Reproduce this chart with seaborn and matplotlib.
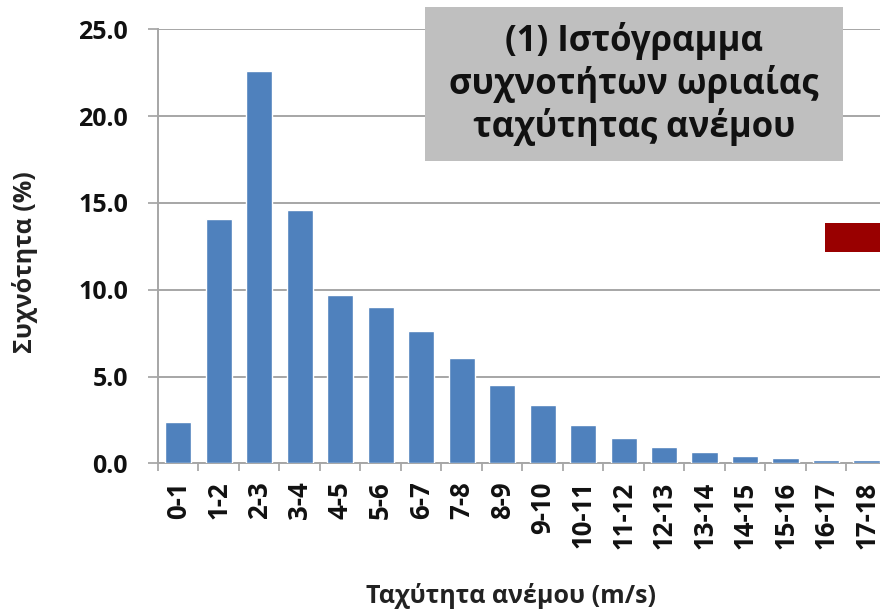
import matplotlib
matplotlib.use("Agg")
import matplotlib.pyplot as plt
import seaborn as sns
import pandas as pd
from matplotlib.patches import Rectangle
from matplotlib.ticker import FixedLocator

categories = ["0-1", "1-2", "2-3", "3-4", "4-5", "5-6", "6-7", "7-8", "8-9",
              "9-10", "10-11", "11-12", "12-13", "13-14", "14-15", "15-16",
              "16-17", "17-18"]
frequency = [2.4, 14.1, 22.6, 14.6, 9.7, 9.0, 7.65, 6.05, 4.5,
             3.35, 2.2, 1.48, 0.96, 0.65, 0.44, 0.3, 0.19, 0.18]
yticks = [0.0, 5.0, 10.0, 15.0, 20.0, 25.0]
title_text = "(1) Ιστόγραμμα\nσυχνοτήτων ωριαίας\nταχύτητας ανέμου"
xlabel = "Ταχύτητα ανέμου (m/s)"
ylabel = "Συχνότητα (%)"

sns.set_theme(style="white")
plt.rcParams['font.family'] = ['Open Sans', 'DejaVu Sans']
plt.rcParams['font.weight'] = 'bold'

df = pd.DataFrame({"cat": categories, "freq": frequency})

fig = plt.figure(figsize=(8.8, 6.13), dpi=100)
ax = fig.add_axes([0.1795, 0.2442, 0.8205, 0.708])

sns.barplot(data=df, x="cat", y="freq", color="#4f81bd", saturation=1,
            width=0.65, ax=ax, zorder=3)

ax.set_ylim(0, 25)
ax.set_xlim(-0.5, 17.33)
ax.set_yticks(yticks)
ax.set_yticklabels([f"{v:.1f}" for v in yticks], fontsize=18, fontweight='bold', color='#111111')
ax.set_xticks(range(len(categories)))
ax.set_xticklabels(categories, rotation=90, fontsize=18.5, fontweight='bold', color='#111111')
ax.xaxis.set_minor_locator(FixedLocator([i - 0.5 for i in range(len(categories) + 1)]))
ax.tick_params(axis='x', which='major', length=0, pad=13)
ax.tick_params(axis='x', which='minor', length=6, width=1.1, color='#999999', bottom=True)
ax.tick_params(axis='y', length=7.5, width=1.1, color='#999999', pad=14, left=True)

ax.grid(axis='y', color='#a6a6a6', linewidth=1.4, zorder=0)
ax.grid(axis='x', visible=False)
for s in ['top', 'right']:
    ax.spines[s].set_visible(False)
for s in ['left', 'bottom']:
    ax.spines[s].set_color('#a6a6a6')
    ax.spines[s].set_linewidth(1.4)

ax.set_xlabel(xlabel, fontsize=18, fontweight='bold', color='#222222')
ax.xaxis.set_label_coords((511 - 158) / 722, -(583 - 463) / 434)
ax.set_ylabel(ylabel, fontsize=18, fontweight='bold', color='#222222')
ax.yaxis.set_label_coords(-(158 - 38) / 722, (463 - 262) / 434)

W, H = 880, 613
# title box
fig.patches.append(Rectangle((425 / W, 1 - 161 / H), (843 - 425) / W, (161 - 7) / H,
                             transform=fig.transFigure, facecolor='#bfbfbf',
                             edgecolor='none', zorder=5))
fig.text(634 / W, 1 - 84 / H, title_text, ha='center', va='center',
         fontsize=25, fontweight='bold', color='#111111', linespacing=1.17, zorder=6)
# red legend fragment
fig.patches.append(Rectangle((825 / W, 1 - 252 / H), (880 - 825) / W, (252 - 223) / H,
                             transform=fig.transFigure, facecolor='#990000',
                             edgecolor='none', zorder=5))

fig.savefig("out.png", dpi=100)
